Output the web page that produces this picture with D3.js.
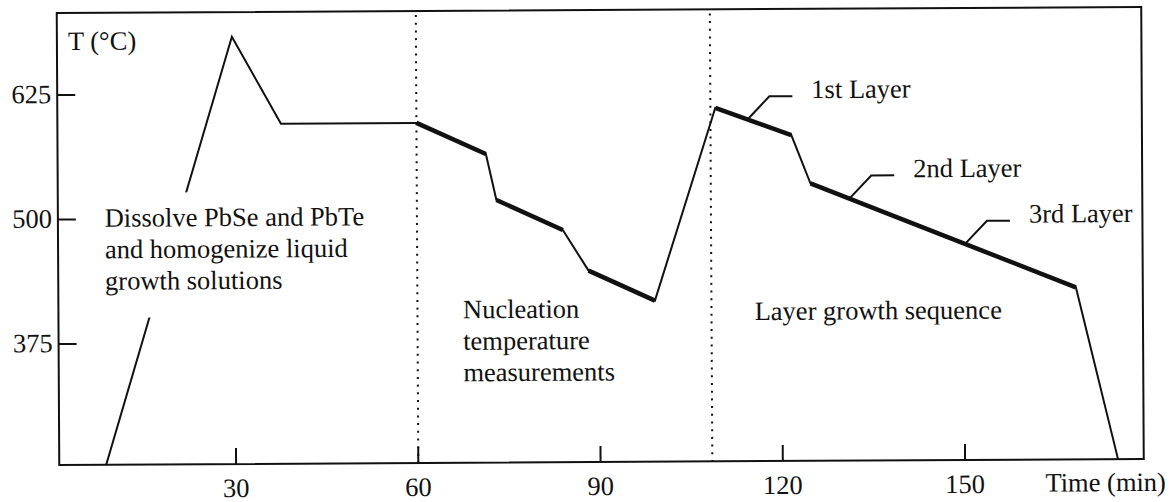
<!DOCTYPE html>
<html>
<head>
<meta charset="utf-8">
<script src="https://cdn.jsdelivr.net/npm/d3@7"></script>
<style>
  body { margin: 0; background: #fff; }
</style>
</head>
<body>
<svg id="chart" width="1174" height="502" font-family="'Liberation Serif', 'DejaVu Serif', 'Times New Roman', serif" font-size="26.5"></svg>
<script>
// temperature programme, time in min and T in degC
const times = [8.6, 29.7, 37.7, 60, 71.4, 73.1, 84.0, 88.2, 99.1, 109.2, 121.7, 124.8, 168.4, 175.2];
const temps = [253, 682.6, 595, 595, 563.4, 517.2, 486.6, 445.7, 415.2, 608.3, 580.7, 532.1, 426.2, 253];
// index ranges of the heavy parts (nucleation checks and the layer growth)
const heavySpans = [[3, 4], [5, 6], [7, 8], [9, 10], [11, 12]];

const xTicks = [30, 60, 90, 120, 150];
const yTicks = [375, 500, 625];
const phaseMarks = [60, 108.4];

const layerNames = ["1st Layer", "2nd Layer", "3rd Layer"];
const layerTimes = [114.5, 131.2, 150.2];

const phaseNotes = [
    ["Dissolve PbSe and PbTe", "and homogenize liquid", "growth solutions"],
    ["Nucleation", "temperature", "measurements"],
    ["Layer growth sequence"]
];
const noteTimes = [8.6, 67.5, 115.5];
const noteTemps = [492.5, 398.6, 395.2];

// plot box
const box = { left: 58, top: 10, right: 1142.5, bottom: 462 };

const svg = d3.select('#chart');
svg.append('rect').attr('width', 1174).attr('height', 502).attr('fill', '#fff');

// the scan is slightly tilted
const g = svg.append('g')
    .attr('transform', 'rotate(-0.32, 600, 236)')
    .attr('fill', '#111');

const x = d3.scaleLinear().domain([30, 150]).range([234.8, 963.8]);
const y = d3.scaleLinear().domain([375, 625]).range([341, 92]);

const pts = times.map((t, i) => [t, temps[i]]);

const line = d3.line()
    .x(d => x(d[0]))
    .y(d => y(d[1]));

// phase separators
g.selectAll('.phase')
    .data(phaseMarks)
    .join('line')
    .attr('class', 'phase')
    .attr('x1', d => x(d)).attr('x2', d => x(d))
    .attr('y1', box.top + 4).attr('y2', box.bottom)
    .attr('stroke', '#111')
    .attr('stroke-width', 2)
    .attr('stroke-dasharray', '2 5.7');

// thin profile
g.append('path')
    .datum(pts)
    .attr('d', line)
    .attr('fill', 'none')
    .attr('stroke', '#111')
    .attr('stroke-width', 2);

// heavy parts
g.selectAll('.heavy')
    .data(heavySpans)
    .join('path')
    .attr('class', 'heavy')
    .attr('d', s => line(pts.slice(s[0], s[1] + 1)))
    .attr('fill', 'none')
    .attr('stroke', '#111')
    .attr('stroke-width', 4.5);

// frame
g.append('rect')
    .attr('x', box.left).attr('y', box.top)
    .attr('width', box.right - box.left).attr('height', box.bottom - box.top)
    .attr('fill', 'none')
    .attr('stroke', '#111')
    .attr('stroke-width', 2);

// y ticks
g.selectAll('.ytick')
    .data(yTicks)
    .join('line')
    .attr('class', 'ytick')
    .attr('x1', box.left).attr('x2', box.left + 18)
    .attr('y1', d => y(d)).attr('y2', d => y(d))
    .attr('stroke', '#111').attr('stroke-width', 2);

g.selectAll('.ylab')
    .data(yTicks)
    .join('text')
    .attr('class', 'ylab')
    .attr('x', box.left - 6)
    .attr('y', d => y(d) + 8)
    .attr('text-anchor', 'end')
    .text(d => d);

// x ticks
g.selectAll('.xtick')
    .data(xTicks)
    .join('line')
    .attr('class', 'xtick')
    .attr('x1', d => x(d)).attr('x2', d => x(d))
    .attr('y1', box.bottom).attr('y2', box.bottom - 16)
    .attr('stroke', '#111').attr('stroke-width', 2);

g.selectAll('.xlab')
    .data(xTicks)
    .join('text')
    .attr('class', 'xlab')
    .attr('x', d => x(d))
    .attr('y', 495)
    .attr('text-anchor', 'middle')
    .text(d => d);

g.append('text').attr('x', 1044).attr('y', 494).text('Time (min)');
g.append('text').attr('x', 69).attr('y', 47).text('T (\u00b0C)');

// phase notes, the first one sits on a white patch that cuts the heating ramp
phaseNotes.forEach((lines, k) => {
    const note = g.append('g');
    note.selectAll('text')
        .data(lines)
        .join('text')
        .attr('x', x(noteTimes[k]))
        .attr('y', (d, i) => y(noteTemps[k]) + i * 31.5)
        .text(d => d);
    if (k === 0) {
        const bb = note.node().getBBox();
        note.insert('rect', 'text')
            .attr('x', bb.x - 4).attr('y', bb.y - 10)
            .attr('width', bb.width + 8).attr('height', bb.height + 32)
            .attr('fill', '#fff');
    }
});

// layer labels with leaders
const tempAt = t => {
    const i = Math.max(1, d3.bisectRight(times, t));
    const f = (t - times[i - 1]) / (times[i] - times[i - 1]);
    return temps[i - 1] + f * (temps[i] - temps[i - 1]);
};

layerNames.forEach((name, k) => {
    const ax = x(layerTimes[k]);
    const ay = y(tempAt(layerTimes[k]));
    const ex = ax + 22, ey = ay - 23;
    g.append('path')
        .attr('d', `M${ax},${ay}L${ex},${ey}H${ex + 23}`)
        .attr('fill', 'none')
        .attr('stroke', '#111')
        .attr('stroke-width', 2);
    g.append('text')
        .attr('x', ex + 42)
        .attr('y', ey + 2)
        .text(name);
});
</script>
</body>
</html>
